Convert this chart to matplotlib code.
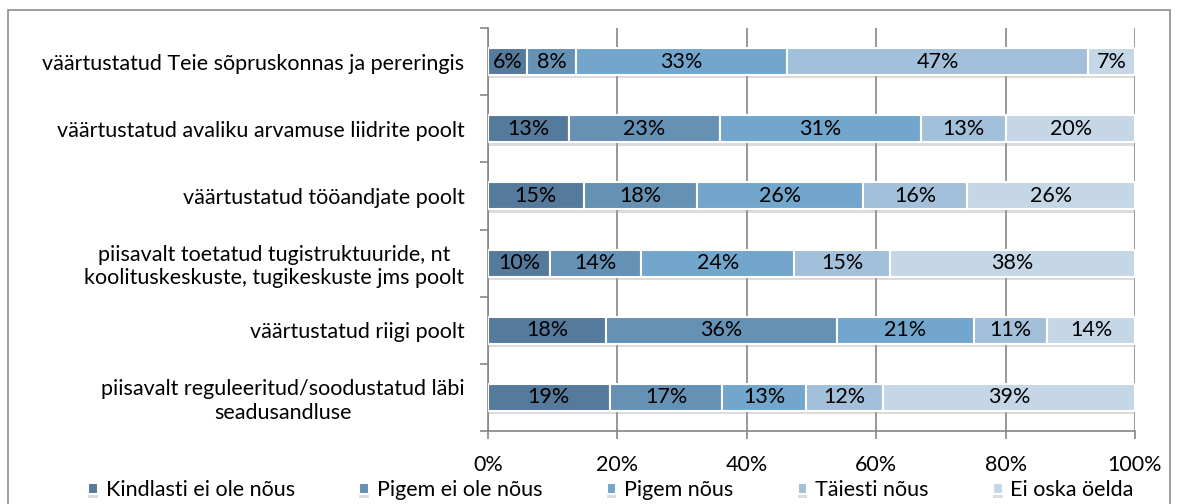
import matplotlib
matplotlib.use("Agg")
import matplotlib.pyplot as plt
import matplotlib.patheffects as pe
from matplotlib.patches import Rectangle
import numpy as np

plt.rcParams['font.family'] = ['Lato', 'DejaVu Sans']

categories = [
    "väärtustatud Teie sõpruskonnas ja pereringis",
    "väärtustatud avaliku arvamuse liidrite poolt",
    "väärtustatud tööandjate poolt",
    "piisavalt toetatud tugistruktuuride, nt\nkoolituskeskuste, tugikeskuste jms poolt",
    "väärtustatud riigi poolt",
    "piisavalt reguleeritud/soodustatud läbi\nseadusandluse",
]
series_names = ["Kindlasti ei ole nõus", "Pigem ei ole nõus", "Pigem nõus",
                "Täiesti nõus", "Ei oska öelda"]
kindlasti_ei = [6.0, 12.5, 14.8, 9.6, 18.2, 18.8]
pigem_ei = [7.6, 23.3, 17.5, 14.1, 35.7, 17.4]
pigem_jah = [32.6, 31.2, 25.7, 23.6, 21.2, 13.0]
taiesti = [46.6, 13.1, 16.1, 14.9, 11.3, 11.9]
ei_oska = [7.2, 19.9, 25.9, 37.8, 13.6, 38.9]
labels = [
    ["6%", "13%", "15%", "10%", "18%", "19%"],
    ["8%", "23%", "18%", "14%", "36%", "17%"],
    ["33%", "31%", "26%", "24%", "21%", "13%"],
    ["47%", "13%", "16%", "15%", "11%", "12%"],
    ["7%", "20%", "26%", "38%", "14%", "39%"],
]
colors = ["#557a9b", "#6591b5", "#72a6cc", "#a2c0d9", "#c5d7e7"]
xticks = [0, 20, 40, 60, 80, 100]
xticklabels = ["0%", "20%", "40%", "60%", "80%", "100%"]

W, H = 1179, 504
fig = plt.figure(figsize=(W / 100, H / 100), dpi=100)
fig.patches.append(Rectangle((8 / W, -0.02), (1170 - 8) / W, 1.02 - 10 / H,
                             transform=fig.transFigure, fill=False,
                             edgecolor="#8c8c8c", linewidth=1.2, zorder=0))
ax = fig.add_axes([488 / W, 1 - 431 / H, (1135 - 488) / W, (431 - 28) / H])

data = [kindlasti_ei, pigem_ei, pigem_jah, taiesti, ei_oska]
n = len(categories)
y = np.arange(n)
left = np.zeros(n)
shadow = [pe.withSimplePatchShadow(offset=(0, -2.5), shadow_rgbFace="#9a9a9a", alpha=0.35)]
for vals, col, name, labs in zip(data, colors, series_names, labels):
    vals = np.array(vals)
    bars = ax.barh(y, vals, left=left, height=0.4, color=col, edgecolor="white",
                   linewidth=1.5, label=name, zorder=3, path_effects=shadow)
    for b, lab in zip(bars, labs):
        ax.text(b.get_x() + b.get_width() / 2, b.get_y() + b.get_height() / 2, lab,
                ha="center", va="center", fontsize=15.5, color="black", zorder=4)
    left = left + vals

ax.set_ylim(n - 0.5, -0.5)
ax.set_xlim(0, 100)
ax.set_xticks(xticks)
ax.set_xticklabels(xticklabels, fontsize=15.5)
ax.set_yticks(y)
ax.set_yticklabels(categories, fontsize=15.5, multialignment="center")
ax.tick_params(axis="y", length=0, pad=17)
ax.set_yticks(np.arange(-0.5, n, 1), minor=True)
ax.tick_params(axis="y", which="minor", length=6, color="#868686", width=1.2, direction="out")
ax.tick_params(axis="x", length=6, color="#868686", width=1.2, direction="out", pad=11)
ax.grid(axis="x", color="#868686", linewidth=1.2, zorder=0)
ax.set_axisbelow(True)
for s in ["top", "right"]:
    ax.spines[s].set_visible(False)
for s in ["left", "bottom"]:
    ax.spines[s].set_color("#868686")
    ax.spines[s].set_linewidth(1.2)

leg = fig.legend(loc="center", bbox_to_anchor=(611 / W, 1 - 490 / H), ncol=5, frameon=False,
                 fontsize=15.5, handlelength=0.45, handleheight=0.45, handletextpad=0.35,
                 columnspacing=3.0, borderpad=0, borderaxespad=0)

fig.savefig("out.png", dpi=100)
